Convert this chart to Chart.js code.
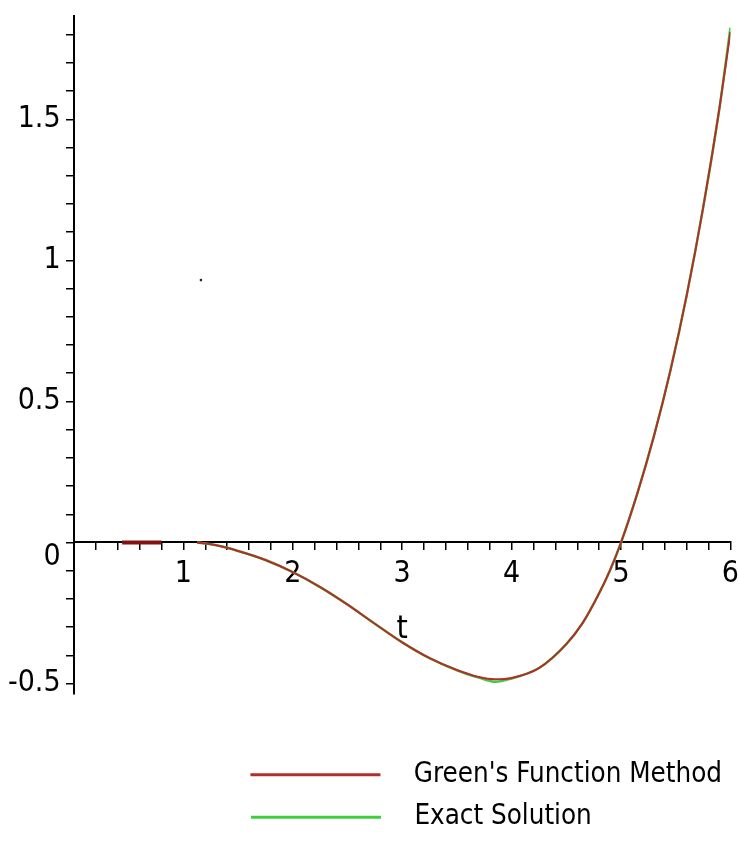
<!DOCTYPE html>
<html>
<head>
<meta charset="utf-8">
<script src="https://cdn.jsdelivr.net/npm/chart.js@4.4.1/dist/chart.umd.min.js"></script>
<style>
  body { margin: 0; background: #fff; }
</style>
</head>
<body>
<canvas id="plot" width="739" height="841"></canvas>
<script>
// values
const tValues = [1.125, 1.3, 1.5, 1.75, 2, 2.25, 2.5, 2.75, 3, 3.25, 3.5, 3.7, 3.85, 4, 4.25, 4.5, 4.65, 4.8, 4.9, 5, 5.15, 5.3, 5.45, 5.6, 5.75, 5.9, 6];
const greensY = [0, -0.01, -0.03, -0.062, -0.105, -0.158, -0.22, -0.288, -0.354, -0.41, -0.452, -0.477, -0.485, -0.48, -0.445, -0.36, -0.285, -0.18, -0.098, 0, 0.175, 0.376, 0.607, 0.875, 1.185, 1.54, 1.81];
const exactY = [0, -0.01, -0.03, -0.062, -0.105, -0.158, -0.22, -0.288, -0.354, -0.41, -0.453, -0.479, -0.494, -0.482, -0.445, -0.36, -0.285, -0.18, -0.098, 0, 0.175, 0.376, 0.607, 0.875, 1.185, 1.54, 1.825];
// short stray piece on the axis and a lone dot
const stubT = [0.44, 0.8];
const stubY = [0, 0];
const dotT = [1.16];
const dotY = [0.93];

const seriesNames = ["Green's Function Method", "Exact Solution"];

const FONT = "'Liberation Sans Narrow', 'DejaVu Sans Condensed', 'Liberation Sans', sans-serif";
const TICK_SIZE = 30;
const LEGEND_SIZE = 27.5;

function pairs(xs, ys) {
  return xs.map((x, i) => ({ x: x, y: ys[i] }));
}

const mctx = document.createElement('canvas').getContext('2d');

// append hair spaces until the text has grown by px
function grow(text, px, before) {
  const w0 = mctx.measureText(text).width;
  let out = text;
  while (mctx.measureText(out + '\u200A').width - w0 <= px) {
    out = before ? '\u200A' + out : out + '\u200A';
  }
  return out;
}

// legend text: gap before it, and equal widths so both lines start together
mctx.font = LEGEND_SIZE + 'px ' + FONT;
const widest = Math.max(...seriesNames.map(s => mctx.measureText(s).width));
const legendText = seriesNames.map(s => {
  const padded = grow(s, widest - mctx.measureText(s).width, false);
  return grow(padded, 22, true);
});

// y labels sit left of the axis
mctx.font = TICK_SIZE + 'px ' + FONT;
const yPad = 15;

function isMult(v, step) {
  const k = v / step;
  return Math.abs(k - Math.round(k)) < 1e-6;
}

new Chart(document.getElementById('plot'), {
  type: 'line',
  data: {
    datasets: [
      {
        label: legendText[0],
        data: pairs(tValues, greensY),
        borderColor: '#b32d2d',
        backgroundColor: '#b32d2d',
        borderWidth: 2,
        pointRadius: 0,
        cubicInterpolationMode: 'monotone'
      },
      {
        label: legendText[1],
        data: pairs(tValues, exactY),
        borderColor: '#3ccf3c',
        backgroundColor: '#3ccf3c',
        borderWidth: 2.5,
        pointRadius: 0,
        cubicInterpolationMode: 'monotone'
      },
      {
        label: 'stub',
        data: pairs(stubT, stubY),
        borderColor: '#841212',
        borderWidth: 4,
        pointRadius: 0
      },
      {
        label: 'dot',
        data: pairs(dotT, dotY),
        showLine: false,
        pointRadius: 1.3,
        pointBackgroundColor: '#222',
        pointBorderWidth: 0
      }
    ]
  },
  options: {
    responsive: false,
    animation: false,
    devicePixelRatio: 1,
    layout: { autoPadding: false, padding: { left: 74, right: 2, top: 16, bottom: 0 } },
    scales: {
      x: {
        type: 'linear',
        min: 0,
        max: 6,
        position: { y: 0 },
        grid: { drawOnChartArea: false, drawTicks: true, tickLength: 7, color: '#000', lineWidth: 1.5 },
        border: { display: true, color: '#000', width: 2 },
        ticks: {
          stepSize: 0.2,
          includeBounds: false,
          autoSkip: false,
          maxRotation: 0,
          padding: 0,
          color: '#000',
          font: { family: FONT, size: TICK_SIZE, lineHeight: 1.667 },
          callback: v => (isMult(v, 1) && Math.round(v) !== 0) ? String(Math.round(v)) : ''
        },
        title: {
          display: true,
          text: 't',
          color: '#000',
          font: { family: FONT, size: 32 },
          padding: { top: 11, bottom: 4 }
        }
      },
      y: {
        type: 'linear',
        min: -0.537,
        max: 1.866,
        position: { x: 0 },
        grid: { drawOnChartArea: false, drawTicks: true, tickLength: 7, color: '#000', lineWidth: 1.5 },
        border: { display: true, color: '#000', width: 2 },
        ticks: {
          stepSize: 0.1,
          includeBounds: false,
          autoSkip: false,
          padding: 0,
          color: '#000',
          font: { family: FONT, size: TICK_SIZE, lineHeight: 1 },
          callback: v => {
            if (!isMult(v, 0.5)) return '';
            const r = Math.round(v * 2) / 2;
            const s = grow(String(r), yPad, false);
            return r === 0 ? ['', s] : s;
          }
        }
      }
    },
    plugins: {
      tooltip: { enabled: false },
      legend: {
        position: 'bottom',
        align: 'end',
        title: { display: true, text: '', font: { size: 12 }, padding: { top: 0, bottom: 37.6 } },
        labels: {
          boxWidth: 130,
          boxHeight: 3,
          padding: 15,
          color: '#000',
          font: { family: FONT, size: LEGEND_SIZE },
          filter: item => item.datasetIndex < 2,
          generateLabels: chart => Chart.defaults.plugins.legend.labels.generateLabels(chart)
            .map(item => Object.assign(item, { lineWidth: 0 }))
        }
      }
    }
  }
});
</script>
</body>
</html>
